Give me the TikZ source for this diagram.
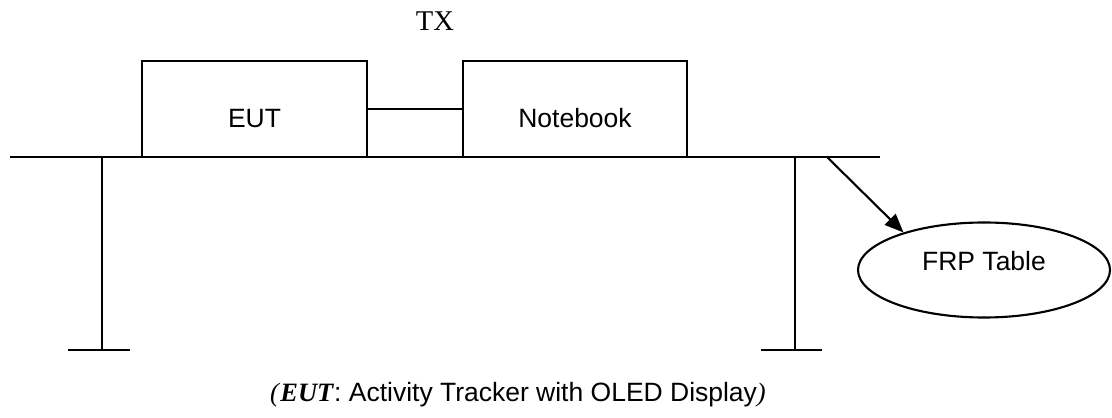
\documentclass[tikz,border=0pt]{standalone}
\usepackage{fontspec}
\setmainfont{Liberation Serif}
\setsansfont{Liberation Sans}
\usetikzlibrary{arrows.meta,shapes.geometric}
\tikzset{
    box/.style={draw, line width=0.9pt, inner sep=0pt, font=\sffamily\fontsize{11.3}{13}\selectfont, text height=15.7pt, text depth=0pt},
    frpoval/.style={draw, ellipse, line width=0.9pt, inner sep=0pt, minimum width=3.78cm, minimum height=1.425cm, font=\sffamily\fontsize{11.3}{13}\selectfont, text height=8.1pt, text depth=7.6pt},
}
\begin{document}
\begin{tikzpicture}[x=0.015cm, y=0.015cm, line width=0.9pt]
    \useasboundingbox (0, 0) rectangle (1112, 417);

    \draw(10, 260) to (880, 260);
        \draw(102, 260) to (102, 67);
            \draw(68, 67) to (130, 67);
        \draw(795, 260) to (795, 67);
            \draw(761, 67) to (822, 67);

    \node[box, minimum width=3.375cm, minimum height=1.44cm] (eut) at (254.5, 308){EUT};
    \node[box, minimum width=3.36cm, minimum height=1.44cm] (notebook) at (575, 308){Notebook};
    \draw (eut) -- (notebook);

    \node[frpoval] (frp) at (984, 147){FRP Table};
    \coordinate (tablept) at (827, 260);
    \draw[-{Triangle[length=8pt, width=6.5pt]}] (tablept) -- (frp.155);

    \node (tx) at (435, 396){\fontsize{12.2}{14}\selectfont TX};
    \node (caption) at (518, 22){\fontsize{11.3}{13}\selectfont\textit{(}\textbf{\textit{EUT}}\sffamily: Activity Tracker with OLED Display\rmfamily\textit{)}};
\end{tikzpicture}
\end{document}
